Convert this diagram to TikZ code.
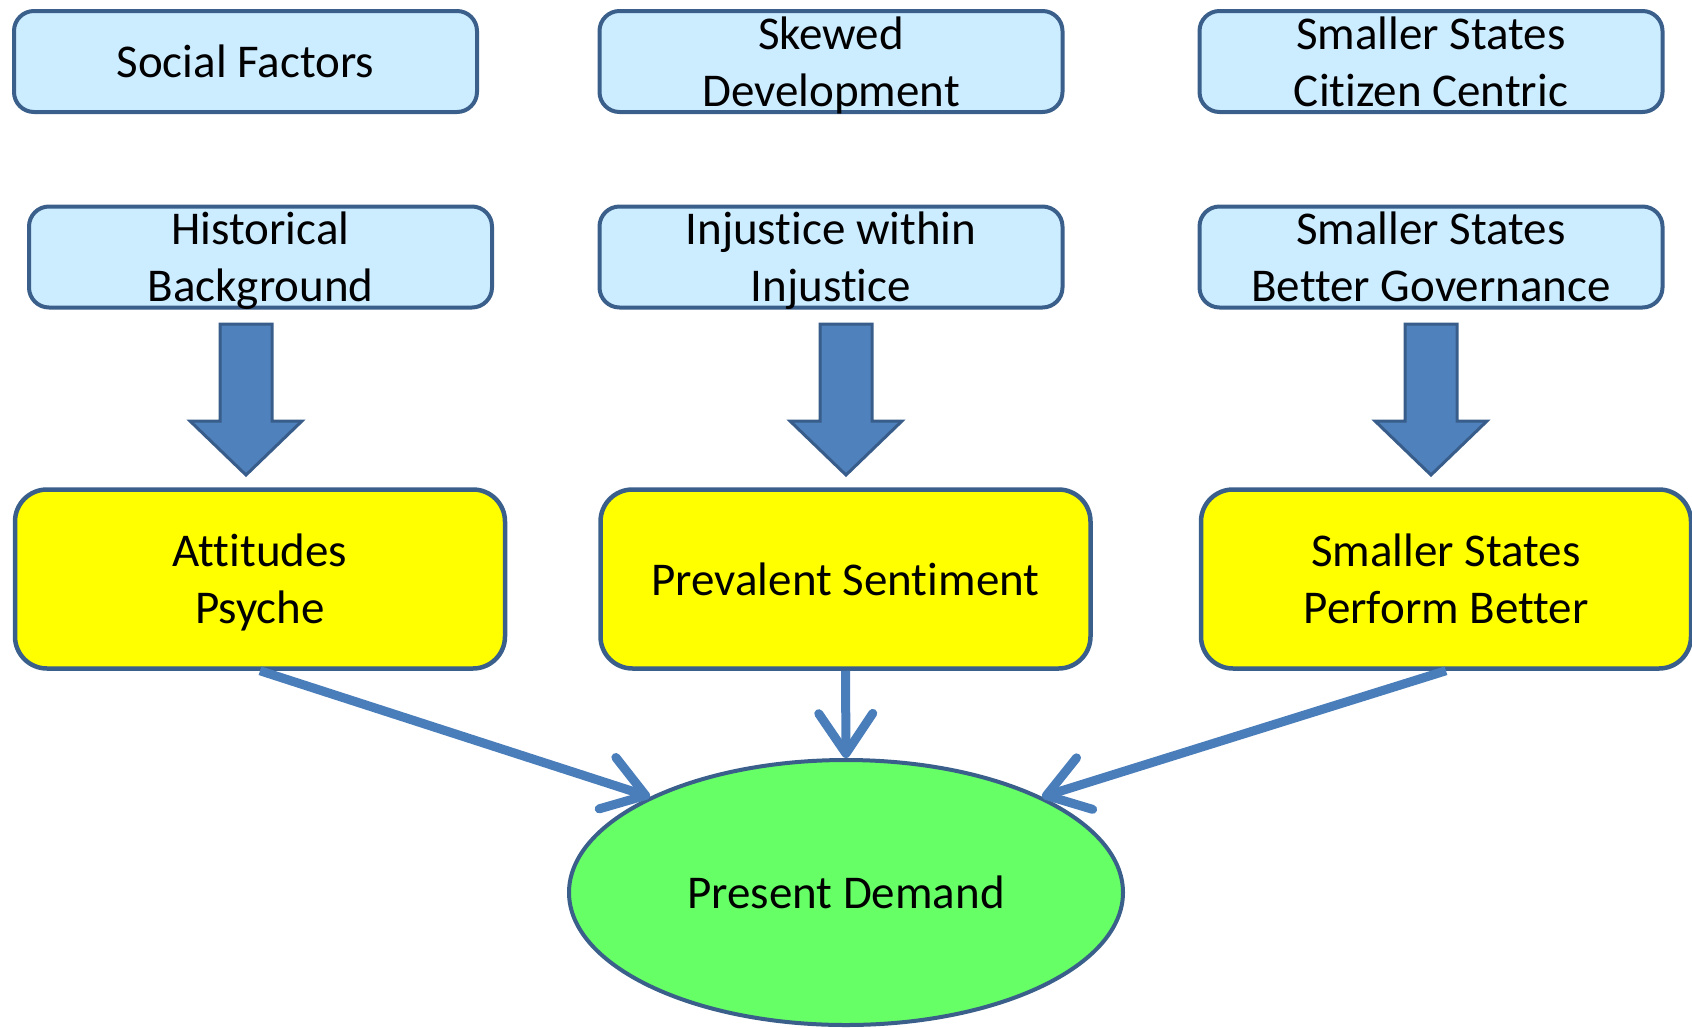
\documentclass[tikz,border=0pt]{standalone}
\usepackage{fontspec}
\setmainfont{Carlito}[Ligatures={NoCommon,NoRequired,NoContextual}]
\usetikzlibrary{arrows.meta,shapes.geometric}
\definecolor{boxblue}{HTML}{CCECFF}
\definecolor{edge}{HTML}{3A5F8B}
\definecolor{arrowfill}{HTML}{4F81BD}
\definecolor{arrowedge}{HTML}{385D8A}
\definecolor{thinarrow}{HTML}{4A7EBB}
\definecolor{boxyellow}{HTML}{FFFF00}
\definecolor{boxgreen}{HTML}{66FF66}
\begin{document}
\begin{tikzpicture}[x=1pt,y=1pt,
  txt/.style={align=center, font=\fontsize{47}{57}\selectfont, text=black, text depth=0pt},
  bluebox/.style={txt, draw=edge, line width=4pt, fill=boxblue, rounded corners=20pt,
    minimum width=463pt, minimum height=101pt, inner sep=0pt},
  yellowbox/.style={txt, draw=edge, line width=4.5pt, fill=boxyellow, rounded corners=32pt,
    minimum width=490pt, minimum height=179pt, inner sep=0pt},
  goal/.style={txt, ellipse, draw=edge, line width=4pt, fill=boxgreen,
    minimum width=554pt, minimum height=265pt, inner sep=0pt},
  blockarrow/.style={draw=arrowedge, line width=3pt, fill=arrowfill, line join=miter},
  thin/.style={draw=thinarrow, line width=9pt,
    -{Straight Barb[length=40pt,width=54pt,round]}},
  bigarrow/.pic={\path[blockarrow] (-26,0) -- (26,0) -- (26,-97) -- (56,-97) -- (0,-151)
    -- (-56,-97) -- (-26,-97) -- cycle;}
]
\useasboundingbox (0,0) rectangle (1692,-1028);

% top row
\node[bluebox] (sf) at (245.5,-61.5) {Social Factors};
\node[bluebox] (sd) at (831,-61.5) {Skewed\\Development};
\node[bluebox] (sc) at (1431,-61.5) {Smaller States\\Citizen Centric};

% second row
\node[bluebox] (hb) at (260.5,-257) {Historical\\Background};
\node[bluebox] (ij) at (831,-257) {Injustice within\\Injustice};
\node[bluebox] (bg) at (1431,-257) {Smaller States\\Better Governance};

% yellow row
\node[yellowbox] (ap) at (260,-579) {Attitudes\\Psyche};
\node[yellowbox] (ps) at (845.5,-579) {Prevalent Sentiment};
\node[yellowbox] (pb) at (1446,-579) {Smaller States\\Perform Better};

% ellipse
\node[goal] (pd) at (846,-892.5) {Present Demand};

% block arrows
\pic at (246,-324) {bigarrow};
\pic at (846,-324) {bigarrow};
\pic at (1431,-324) {bigarrow};

% thin arrows
\draw[thin] (ap.south) -- (pd.154);
\draw[thin] (ps.south) -- (pd.north);
\draw[thin] (pb.south) -- (pd.26);
\end{tikzpicture}
\end{document}
